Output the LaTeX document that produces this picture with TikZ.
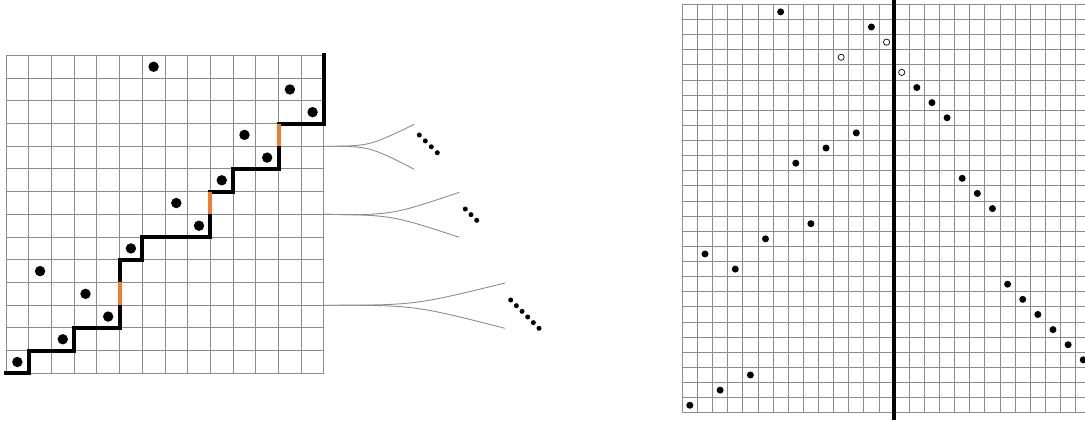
\documentclass[tikz,border=0pt]{standalone}
\definecolor{gridgray}{gray}{0.55}
\definecolor{stairorange}{RGB}{237,125,49}
\tikzset{
  gridline/.style={draw=gridgray, line width=0.9pt},
  stair/.style={draw=black, line width=4pt, line cap=rect, line join=miter},
  orangeseg/.style={draw=stairorange, line width=4pt, line cap=butt},
  ldot/.style={circle, fill=black, inner sep=0pt, minimum size=10.4pt},
  rdot/.style={circle, fill=black, inner sep=0pt, minimum size=7pt},
  rring/.style={circle, draw=black, fill=white, line width=0.7pt, inner sep=0pt, minimum size=6.2pt},
  sdot/.style={circle, fill=black, inner sep=0pt, minimum size=5pt},
  fanline/.style={draw=gridgray, line width=0.9pt},
  divider/.style={draw=black, line width=3.5pt},
}
\begin{document}
\begin{tikzpicture}[x=1pt,y=-1pt]
\path[use as bounding box] (0,0) rectangle (1085,421);
\clip (0,0) rectangle (1085,421);

% ---------- left grid ----------
\begin{scope}[xshift=6pt, yshift=-373.33pt, x=22.71pt, y=22.71pt]
  \foreach \i in {0,...,14} {
    \draw[gridline] (\i,0) -- (\i,14);
    \draw[gridline] (0,\i) -- (14,\i);
  }
  \draw[stair] (0,0) -- (1,0) -- (1,1) -- (3,1) -- (3,2) -- (5,2) -- (5,5) -- (6,5)
     -- (6,6) -- (9,6) -- (9,8) -- (10,8) -- (10,9) -- (12,9) -- (12,11) -- (14,11) -- (14,14);
  \draw[orangeseg] (5,3) -- (5,4);
  \draw[orangeseg] (9,7) -- (9,8);
  \draw[orangeseg] (12,10) -- (12,11);
  \foreach \c/\r in {0/0,1/4,2/1,3/3,4/2,5/5,6/13,7/7,8/6,9/8,10/10,11/9,12/12,13/11}
    \node[ldot] (L\c) at (\c+0.5,\r+0.5) {};
  \coordinate (f1s) at (14,10);
  \coordinate (f2s) at (14,7);
  \coordinate (f3s) at (14,3);
\end{scope}

% ---------- fans ----------
\coordinate (f1c) at (369,146.2);
\coordinate (f1u) at (414.3,124.3);
\coordinate (f1l) at (414.3,169.3);
\coordinate (f2c) at (391.6,215.1);
\coordinate (f2u) at (459.3,192.3);
\coordinate (f2l) at (459.3,237.3);
\coordinate (f3c) at (414.5,305.2);
\coordinate (f3u) at (505,283);
\coordinate (f3l) at (505,328.3);
\draw[fanline] (f1s) .. controls (f1c) .. (f1u);
\draw[fanline] (f1s) .. controls (f1c) .. (f1l);
\draw[fanline] (f2s) .. controls (f2c) .. (f2u);
\draw[fanline] (f2s) .. controls (f2c) .. (f2l);
\draw[fanline] (f3s) .. controls (f3c) .. (f3u);
\draw[fanline] (f3s) .. controls (f3c) .. (f3l);

\foreach \i in {0,...,3}
  \node[sdot] (Fa\i) at (419.3+6*\i,135+5.9*\i) {};
\foreach \i in {0,...,2}
  \node[sdot] (Fb\i) at (465.3+5.7*\i,209+5.65*\i) {};
\foreach \i in {0,...,5}
  \node[sdot] (Fc\i) at (510.7+5.66*\i,300+5.66*\i) {};

% ---------- right grid ----------
\begin{scope}[xshift=682.3pt, yshift=-4.3pt, x=15.13pt, y=-15.13pt]
  \foreach \i in {0,...,27} {
    \draw[gridline] (\i,0) -- (\i,27);
    \draw[gridline] (0,\i) -- (27,\i);
  }
  \draw[divider] (14,-0.5) -- (14,27.47);
  \foreach \c/\r in {0/26,1/16,2/25,3/17,4/24,5/15,6/0,7/10,8/14,9/9,11/8,12/1,
                     15/5,16/6,17/7,18/11,19/12,20/13,21/18,22/19,23/20,24/21,25/22,26/23}
    \node[rdot] (R\c) at (\c+0.5,\r+0.5) {};
  \foreach \c/\r in {10/3,13/2,14/4}
    \node[rring] (R\c) at (\c+0.5,\r+0.5) {};
\end{scope}
\end{tikzpicture}
\end{document}
